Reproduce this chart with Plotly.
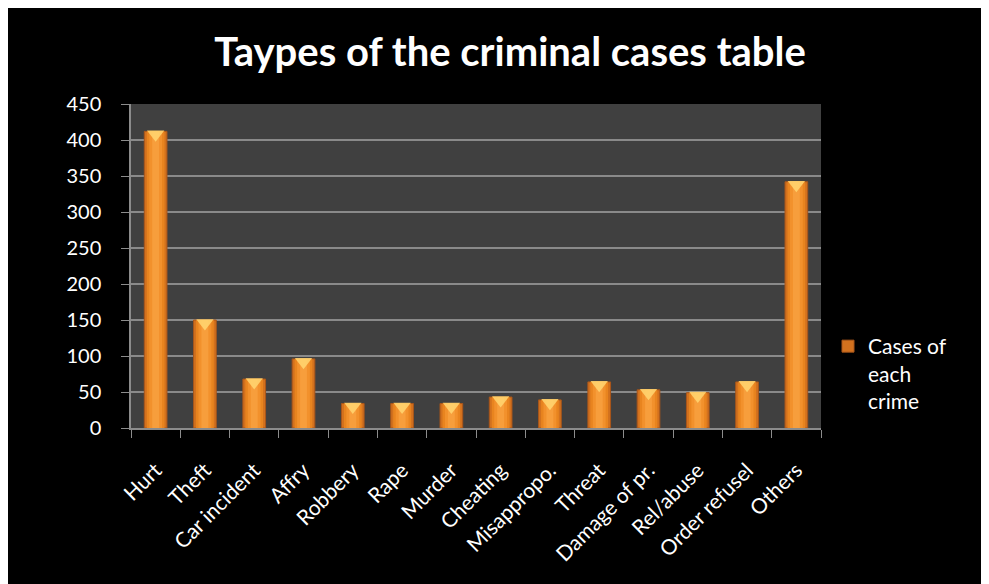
import plotly.graph_objects as go

categories = ["Hurt", "Theft", "Car incident", "Affry", "Robbery", "Rape", "Murder",
              "Cheating", "Misappropo.", "Threat", "Damage of pr.", "Rel/abuse",
              "Order refusel", "Others"]
cases = [412, 150, 68, 96, 34, 34, 34, 43, 39, 64, 53, 49, 64, 342]
y_ticks = [0, 50, 100, 150, 200, 250, 300, 350, 400, 450]

W, H = 989, 584
L, R, T, B = 123, 176, 96, 164
pw, ph = W - L - R, H - T - B

fig = go.Figure()
# outer (darker edge) bar
fig.add_trace(go.Bar(
    x=categories, y=cases, width=0.46, name="Cases of<br>each<br>crime",
    marker=dict(color="#D2711E", line=dict(color="#A9561A", width=1)),
    showlegend=True, hoverinfo="x+y"))
# inner lighter bars (stepped gradient)
fig.add_trace(go.Bar(
    x=categories, y=cases, width=0.36,
    marker=dict(color="#E8841F", line=dict(width=0)), showlegend=False, hoverinfo="skip"))
fig.add_trace(go.Bar(
    x=categories, y=cases, width=0.26,
    marker=dict(color="#F2912C", line=dict(width=0)), showlegend=False, hoverinfo="skip"))
fig.add_trace(go.Bar(
    x=categories, y=cases, width=0.14,
    marker=dict(color="#F79E3C", line=dict(width=0)), showlegend=False, hoverinfo="skip"))
# top highlight
fig.add_trace(go.Scatter(
    x=categories, y=[v - 4 for v in cases], mode="markers",
    marker=dict(symbol="triangle-down", size=15, color="#FFD36E", opacity=0.9,
                line=dict(width=0)),
    showlegend=False, hoverinfo="skip"))

fig.update_layout(
    width=W, height=H,
    margin=dict(l=L, r=R, t=T, b=B, pad=0),
    barmode="overlay",
    paper_bgcolor="#000000",
    plot_bgcolor="#404040",
    font=dict(family="Lato, 'Open Sans', sans-serif", color="#FFFFFF", size=18),
    title=dict(text="<b>Taypes of the criminal cases table</b>",
               x=502 / W, xanchor="center", y=1 - 44 / H, yanchor="middle",
               font=dict(size=40, color="#FFFFFF")),
    legend=dict(x=(820 - L) / pw, xanchor="left", y=(H - B - 318) / ph,
                yanchor="top", valign="top", font=dict(size=21, color="#FFFFFF"),
                bgcolor="rgba(0,0,0,0)"),
    bargap=0.5,
)
fig.update_xaxes(
    type="category", tickangle=-45, tickfont=dict(size=21),
    showline=True, linecolor="#8C8C8C", linewidth=1.5,
    ticks="outside", tickson="boundaries", ticklen=8, tickcolor="#8C8C8C",
    ticklabelstandoff=20,
    showgrid=False, range=[-0.5, len(categories) - 0.5])
fig.update_yaxes(
    range=[0, 450], tickvals=y_ticks, tickfont=dict(size=20),
    showline=True, linecolor="#8C8C8C", linewidth=1.5,
    ticks="outside", ticklen=8, tickcolor="#8C8C8C",
    ticklabelstandoff=16,
    showgrid=True, gridcolor="#8A8A8A", gridwidth=1.5, zeroline=False)

fig.write_html("out.html")
